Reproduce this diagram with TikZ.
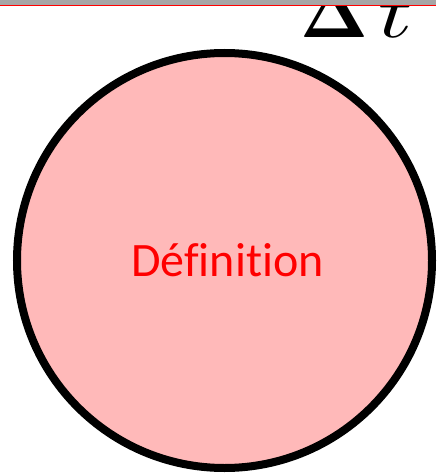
\documentclass[tikz,border=0pt]{standalone}
\usepackage{amsmath}
\usepackage{graphicx}
\usepackage{fontspec}
\setmainfont{Carlito}[Ligatures=NoCommon]
\usepackage{tikz}

\definecolor{defpink}{RGB}{255,185,185}
\definecolor{bandgray}{RGB}{166,166,166}

\begin{document}
\begin{tikzpicture}[x=1pt, y=1pt,
  defcircle/.style={circle, draw=black, line width=8pt, fill=defpink,
                    minimum size=415pt, inner sep=0pt,
                    font=\fontsize{48}{57}\selectfont, text=red},
  sym/.style={anchor=base west, inner sep=0pt}]
  \useasboundingbox (0,0) rectangle (436,-476);
  \clip (0,0) rectangle (436,-476);
  \node[defcircle] (def) at (224.5,-260.5) {\raisebox{-9pt}{\hspace{6pt}D\'efinition}};
  \node[sym] (dt) at (300,-38) {\scalebox{7.1}{$\boldsymbol{\Delta}$}\hspace{10pt}\scalebox{9.5}[7.4]{$t$}};
  % bandeau du haut
  \fill[bandgray] (0,0) rectangle (436,-5);
  \draw[red, line width=1.5pt] (0,-5.5) -- (436,-5.5);
\end{tikzpicture}
\end{document}
